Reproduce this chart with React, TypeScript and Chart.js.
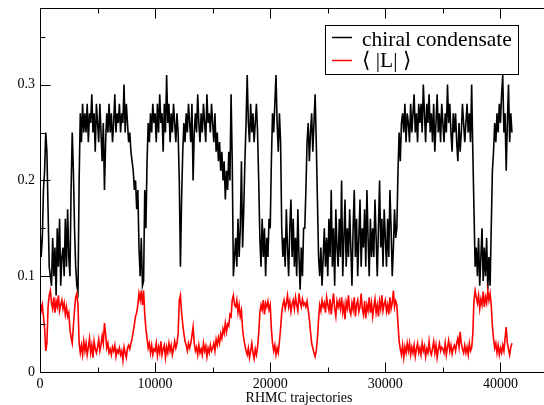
import React, { useEffect, useRef } from "react";
import { Chart, registerables } from "chart.js";

Chart.register(...registerables);

// ---- data (RHMC trajectory every TRAJ_STEP) ----
const TRAJ_STEP = 100;

const chiralCondensate = [
  0.15, 0.12, 0.14, 0.19, 0.21, 0.25, 0.23, 0.17, 0.11, 0.10,
  0.09, 0.14, 0.10, 0.13, 0.08, 0.15, 0.11, 0.16, 0.09, 0.12,
  0.13, 0.10, 0.16, 0.11, 0.17, 0.12, 0.10, 0.19, 0.25, 0.21,
  0.15, 0.11, 0.09, 0.084, 0.20, 0.27, 0.24, 0.28, 0.25, 0.27,
  0.25, 0.28, 0.24, 0.27, 0.26, 0.29, 0.25, 0.27, 0.23, 0.28,
  0.26, 0.24, 0.28, 0.25, 0.22, 0.26, 0.19, 0.24, 0.27, 0.25,
  0.28, 0.25, 0.27, 0.24, 0.26, 0.29, 0.25, 0.27, 0.26, 0.28,
  0.25, 0.27, 0.26, 0.30, 0.25, 0.28, 0.26, 0.24, 0.25, 0.23,
  0.22, 0.21, 0.19, 0.20, 0.17, 0.19, 0.13, 0.10, 0.14, 0.09,
  0.095, 0.19, 0.15, 0.22, 0.26, 0.24, 0.27, 0.25, 0.28, 0.26,
  0.27, 0.24, 0.28, 0.25, 0.29, 0.26, 0.27, 0.23, 0.28, 0.25,
  0.31, 0.26, 0.28, 0.24, 0.27, 0.25, 0.28, 0.26, 0.24, 0.27,
  0.25, 0.20, 0.11, 0.18, 0.23, 0.26, 0.24, 0.27, 0.25, 0.28,
  0.26, 0.24, 0.28, 0.20, 0.25, 0.27, 0.25, 0.29, 0.26, 0.24,
  0.27, 0.25, 0.28, 0.26, 0.24, 0.29, 0.26, 0.27, 0.25, 0.28,
  0.26, 0.24, 0.27, 0.23, 0.25, 0.22, 0.24, 0.21, 0.23, 0.20,
  0.22, 0.18, 0.21, 0.19, 0.23, 0.20, 0.29, 0.22, 0.10, 0.12,
  0.14, 0.11, 0.16, 0.12, 0.15, 0.22, 0.13, 0.17, 0.22, 0.26,
  0.31, 0.26, 0.24, 0.28, 0.25, 0.27, 0.24, 0.26, 0.28, 0.25,
  0.20, 0.14, 0.11, 0.16, 0.12, 0.15, 0.10, 0.14, 0.12, 0.16,
  0.15, 0.22, 0.27, 0.25, 0.28, 0.31, 0.26, 0.23, 0.27, 0.24,
  0.15, 0.12, 0.14, 0.11, 0.17, 0.13, 0.10, 0.15, 0.18, 0.12,
  0.16, 0.11, 0.14, 0.10, 0.17, 0.12, 0.086, 0.13, 0.10, 0.15,
  0.15, 0.19, 0.24, 0.26, 0.22, 0.25, 0.27, 0.23, 0.26, 0.29,
  0.24, 0.18, 0.12, 0.10, 0.13, 0.09, 0.12, 0.15, 0.11, 0.14,
  0.10, 0.16, 0.12, 0.19, 0.11, 0.15, 0.09, 0.17, 0.13, 0.11,
  0.16, 0.12, 0.20, 0.10, 0.14, 0.18, 0.11, 0.15, 0.12, 0.17,
  0.13, 0.09, 0.15, 0.19, 0.12, 0.16, 0.10, 0.14, 0.18, 0.11,
  0.15, 0.13, 0.17, 0.11, 0.19, 0.14, 0.10, 0.16, 0.12, 0.15,
  0.12, 0.18, 0.14, 0.10, 0.15, 0.20, 0.13, 0.16, 0.11, 0.17,
  0.14, 0.11, 0.16, 0.12, 0.19, 0.15, 0.10, 0.13, 0.17, 0.14,
  0.15, 0.21, 0.25, 0.22, 0.26, 0.27, 0.25, 0.28, 0.24, 0.27,
  0.26, 0.24, 0.28, 0.25, 0.27, 0.29, 0.25, 0.27, 0.24, 0.28,
  0.26, 0.28, 0.25, 0.30, 0.27, 0.24, 0.28, 0.26, 0.29, 0.25,
  0.27, 0.24, 0.28, 0.23, 0.26, 0.29, 0.25, 0.27, 0.24, 0.28,
  0.26, 0.24, 0.27, 0.25, 0.30, 0.26, 0.28, 0.25, 0.23, 0.27,
  0.25, 0.27, 0.24, 0.22, 0.26, 0.23, 0.25, 0.28, 0.26, 0.24,
  0.26, 0.28, 0.25, 0.27, 0.24, 0.30, 0.23, 0.17, 0.11, 0.13,
  0.10, 0.14, 0.09, 0.12, 0.15, 0.095, 0.13, 0.10, 0.14, 0.086,
  0.12, 0.09, 0.15, 0.21, 0.23, 0.26, 0.24, 0.27, 0.25, 0.28,
  0.26, 0.29, 0.31, 0.25, 0.27, 0.21, 0.26, 0.30, 0.24, 0.27,
  0.25,
];

const polyakovLoop = [
  0.075, 0.064, 0.070, 0.058, 0.046, 0.022, 0.030, 0.068, 0.080, 0.085,
  0.072, 0.066, 0.078, 0.062, 0.074, 0.068, 0.080, 0.064, 0.070, 0.075,
  0.066, 0.072, 0.060, 0.068, 0.058, 0.062, 0.045, 0.036, 0.030, 0.048,
  0.065, 0.078, 0.082, 0.070, 0.030, 0.020, 0.028, 0.018, 0.032, 0.022,
  0.030, 0.018, 0.026, 0.035, 0.020, 0.028, 0.015, 0.032, 0.024, 0.020,
  0.026, 0.034, 0.022, 0.028, 0.038, 0.030, 0.051, 0.040, 0.025, 0.030,
  0.020, 0.024, 0.018, 0.026, 0.022, 0.028, 0.016, 0.023, 0.020, 0.025,
  0.018, 0.022, 0.012, 0.026, 0.020, 0.015, 0.025, 0.028, 0.024, 0.030,
  0.035, 0.042, 0.050, 0.058, 0.062, 0.070, 0.082, 0.075, 0.085, 0.070,
  0.085, 0.060, 0.045, 0.035, 0.025, 0.030, 0.020, 0.028, 0.018, 0.024,
  0.022, 0.030, 0.017, 0.026, 0.020, 0.032, 0.018, 0.024, 0.028, 0.015,
  0.026, 0.020, 0.030, 0.022, 0.028, 0.018, 0.024, 0.032, 0.025, 0.030,
  0.040, 0.075, 0.080, 0.062, 0.050, 0.040, 0.032, 0.028, 0.022, 0.030,
  0.025, 0.030, 0.038, 0.047, 0.030, 0.022, 0.026, 0.018, 0.028, 0.020,
  0.024, 0.018, 0.030, 0.022, 0.027, 0.016, 0.025, 0.020, 0.028, 0.022,
  0.025, 0.030, 0.022, 0.034, 0.028, 0.036, 0.030, 0.040, 0.035, 0.045,
  0.040, 0.051, 0.042, 0.050, 0.048, 0.060, 0.058, 0.075, 0.080, 0.070,
  0.068, 0.075, 0.062, 0.070, 0.058, 0.064, 0.045, 0.035, 0.028, 0.022,
  0.018, 0.025, 0.015, 0.022, 0.030, 0.020, 0.014, 0.024, 0.018, 0.026,
  0.040, 0.062, 0.070, 0.065, 0.075, 0.060, 0.072, 0.068, 0.074, 0.065,
  0.070, 0.045, 0.030, 0.022, 0.028, 0.018, 0.025, 0.020, 0.032, 0.045,
  0.062, 0.070, 0.075, 0.066, 0.072, 0.080, 0.068, 0.074, 0.063, 0.071,
  0.075, 0.066, 0.078, 0.070, 0.064, 0.082, 0.073, 0.068, 0.076, 0.070,
  0.072, 0.068, 0.074, 0.065, 0.055, 0.042, 0.030, 0.025, 0.020, 0.016,
  0.022, 0.035, 0.055, 0.070, 0.064, 0.075, 0.068, 0.072, 0.062, 0.078,
  0.070, 0.064, 0.076, 0.060, 0.072, 0.082, 0.066, 0.058, 0.074, 0.068,
  0.074, 0.066, 0.078, 0.062, 0.070, 0.055, 0.073, 0.067, 0.080, 0.064,
  0.060, 0.072, 0.065, 0.078, 0.058, 0.070, 0.075, 0.063, 0.068, 0.082,
  0.066, 0.060, 0.074, 0.056, 0.070, 0.064, 0.078, 0.062, 0.072, 0.058,
  0.068, 0.076, 0.062, 0.070, 0.058, 0.074, 0.066, 0.080, 0.064, 0.071,
  0.075, 0.063, 0.070, 0.060, 0.078, 0.066, 0.072, 0.085, 0.068, 0.074,
  0.070, 0.050, 0.032, 0.024, 0.018, 0.028, 0.015, 0.026, 0.020, 0.030,
  0.022, 0.030, 0.018, 0.026, 0.020, 0.028, 0.016, 0.024, 0.030, 0.020,
  0.025, 0.018, 0.030, 0.022, 0.027, 0.016, 0.024, 0.020, 0.032, 0.021,
  0.018, 0.025, 0.032, 0.020, 0.028, 0.015, 0.024, 0.030, 0.022, 0.026,
  0.024, 0.020, 0.030, 0.018, 0.026, 0.033, 0.022, 0.028, 0.019, 0.025,
  0.028, 0.022, 0.030, 0.035, 0.026, 0.042, 0.030, 0.024, 0.020, 0.028,
  0.020, 0.026, 0.018, 0.030, 0.022, 0.025, 0.040, 0.075, 0.085, 0.078,
  0.072, 0.080, 0.066, 0.076, 0.070, 0.084, 0.068, 0.078, 0.072, 0.085,
  0.075, 0.082, 0.070, 0.048, 0.035, 0.025, 0.030, 0.020, 0.028, 0.018,
  0.025, 0.020, 0.028, 0.022, 0.035, 0.047, 0.030, 0.024, 0.018, 0.026,
  0.030,
];

const xMajorTicks = [0, 10000, 20000, 30000, 40000];
const xMinorTicks = [5000, 15000, 25000, 35000, 45000];
const yMajorTicks = [0, 0.1, 0.2, 0.3];
const yTickLabels = ["0", "0.1", "0.2", "0.3"];
const yMinorTicks = [0.05, 0.15, 0.25, 0.35];
const X_MAX = 45000;
const Y_MAX = 0.38;
const xTitle = "RHMC trajectories";
const seriesLabels = ["chiral condensate", "\u27E8 |L| \u27E9"];
const seriesColors = ["#000000", "#ff0000"];

const FONT = "'Liberation Serif', 'Times New Roman', 'DejaVu Serif', serif";

const toPoints = (arr: number[]) => arr.map((v, i) => ({ x: i * TRAJ_STEP, y: v }));

const framePlugin = {
  id: "graceFrame",
  afterDatasetsDraw(chart: any) {
    const { ctx, chartArea: a, scales } = chart;
    const xs = scales.x;
    const ys = scales.y;
    const L = a.left + 0.5;
    const R = a.right - 0.5;
    const T = a.top + 0.5;
    const B = a.bottom + 0.5;
    ctx.save();
    ctx.strokeStyle = "#000";
    ctx.lineWidth = 1;
    ctx.beginPath();
    ctx.moveTo(L, T);
    ctx.lineTo(R, T);
    ctx.lineTo(R, B);
    ctx.lineTo(L, B);
    ctx.closePath();
    const xt = (vals: number[], len: number) => {
      vals.forEach((v) => {
        const p = Math.round(xs.getPixelForValue(v)) + 0.5;
        ctx.moveTo(p, B);
        ctx.lineTo(p, B - len);
        ctx.moveTo(p, T);
        ctx.lineTo(p, T + len);
      });
    };
    const yt = (vals: number[], len: number) => {
      vals.forEach((v) => {
        const p = Math.round(ys.getPixelForValue(v)) + 0.5;
        ctx.moveTo(L, p);
        ctx.lineTo(L + len, p);
        ctx.moveTo(R, p);
        ctx.lineTo(R - len, p);
      });
    };
    xt(xMajorTicks, 10);
    xt(xMinorTicks, 5);
    yt(yMajorTicks, 10);
    yt(yMinorTicks, 5);
    ctx.stroke();

    // legend box
    const bx = 325.5, by = 25.5, bw = 193, bh = 49;
    ctx.fillStyle = "#fff";
    ctx.fillRect(bx, by, bw, bh);
    ctx.strokeRect(bx, by, bw, bh);
    const rows = [37.5, 60.5];
    const baselines = [45.5, 67];
    seriesLabels.forEach((lab, i) => {
      ctx.strokeStyle = seriesColors[i];
      ctx.lineWidth = 1.5;
      ctx.beginPath();
      ctx.moveTo(332, rows[i]);
      ctx.lineTo(352, rows[i]);
      ctx.stroke();
      ctx.fillStyle = "#000";
      ctx.font = `21.5px ${FONT}`;
      ctx.textAlign = "left";
      ctx.textBaseline = "alphabetic";
      ctx.fillText(lab, 362, baselines[i]);
    });
    ctx.restore();
  },
};

export default function App() {
  const ref = useRef<HTMLCanvasElement | null>(null);
  useEffect(() => {
    if (!ref.current) return;
    const chart = new Chart(ref.current, {
      type: "line",
      data: {
        datasets: [
          {
            label: seriesLabels[0],
            data: toPoints(chiralCondensate),
            borderColor: seriesColors[0],
            borderWidth: 1.6,
            pointRadius: 0,
            tension: 0,
            fill: false,
            order: 1,
          },
          {
            label: seriesLabels[1],
            data: toPoints(polyakovLoop),
            borderColor: seriesColors[1],
            borderWidth: 1.6,
            pointRadius: 0,
            tension: 0,
            fill: false,
            order: 0,
          },
        ],
      },
      options: {
        animation: false,
        responsive: false,
        devicePixelRatio: 1,
        layout: { padding: { top: 8, right: 2, left: 0, bottom: 0 } },
        plugins: { legend: { display: false }, tooltip: { enabled: false } },
        scales: {
          x: {
            type: "linear",
            min: 0,
            max: X_MAX,
            afterFit: (s: any) => {
              s.height = 33;
              s.paddingLeft = 0;
              s.paddingRight = 0;
            },
            afterBuildTicks: (s: any) => {
              s.ticks = xMajorTicks.map((v) => ({ value: v }));
            },
            grid: { display: false, drawTicks: false },
            border: { display: false },
            ticks: {
              padding: 4,
              color: "#000",
              autoSkip: false,
              maxRotation: 0,
              font: { family: FONT, size: 14 },
              callback: (v: any) => String(v),
            },
            title: {
              display: true,
              text: xTitle,
              color: "#000",
              font: { family: FONT, size: 14 },
              padding: { top: 0, bottom: -2 },
            },
          },
          y: {
            type: "linear",
            min: 0,
            max: Y_MAX,
            afterFit: (s: any) => {
              s.width = 40;
              s.paddingTop = 0;
              s.paddingBottom = 0;
            },
            afterBuildTicks: (s: any) => {
              s.ticks = yMajorTicks.map((v) => ({ value: v }));
            },
            grid: { display: false, drawTicks: false },
            border: { display: false },
            ticks: {
              padding: 5,
              color: "#000",
              autoSkip: false,
              font: { family: FONT, size: 14 },
              callback: (_v: any, i: number) => yTickLabels[i],
            },
          },
        },
      },
      plugins: [framePlugin],
    });
    return () => chart.destroy();
  }, []);

  return (
    <div
      style={{
        position: "fixed",
        left: 0,
        top: 0,
        width: 544,
        height: 405,
        overflow: "hidden",
        background: "#fff",
      }}
    >
      <canvas ref={ref} width={560} height={405} style={{ display: "block", width: 560, height: 405 }} />
    </div>
  );
}
